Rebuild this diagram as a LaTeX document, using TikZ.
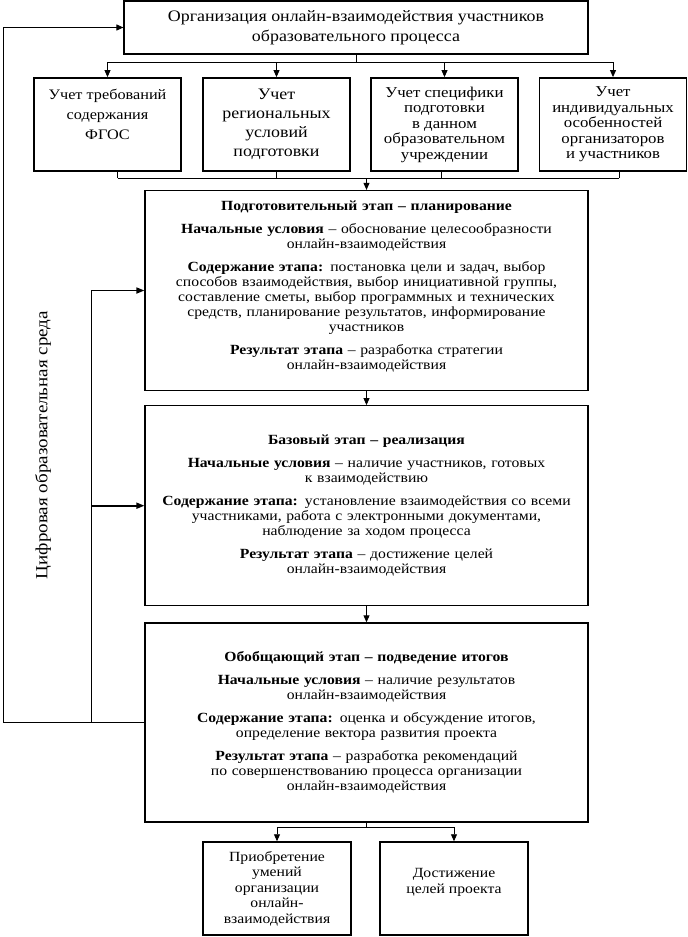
\documentclass[tikz,border=0pt]{standalone}
\usepackage{fontspec}
\setmainfont[FakeStretch=1.12]{Liberation Serif}
\usetikzlibrary{arrows.meta,positioning,calc}

\begin{document}
\begin{tikzpicture}[
        x=1pt, y=-1pt,
        mainBox/.style={
            draw,
            line width=1.1pt,
            minimum width=464pt,
            minimum height=53pt,
            align=center,
            font=\fontsize{16}{20}\selectfont
        },
        factorBox/.style={
            draw,
            line width=1.8pt,
            minimum width=147pt,
            minimum height=93pt,
            inner sep=2pt,
            align=center,
            font=\fontsize{14.5}{15.5}\selectfont
        },
        stageBox/.style={
            draw,
            line width=1.2pt,
            text width=430pt,
            inner xsep=6.5pt,
            minimum height=200pt,
            align=center,
            font=\fontsize{14}{15}\selectfont
        },
        resultBox/.style={
            draw,
            line width=1.5pt,
            minimum width=148pt,
            minimum height=93pt,
            inner sep=2pt,
            align=center,
            font=\fontsize{14}{15.5}\selectfont
        },
        flowLine/.style={
            line width=0.9pt
        },
        flowArrow/.style={
            -{Triangle[length=7pt,width=6pt]},
            line width=0.9pt
        },
        loopArrow/.style={
            -{Triangle[length=8pt,width=6pt]},
            line width=1.6pt
        },
        envLabel/.style={
            font=\fontsize{17}{20}\selectfont
        }
    ]

        \useasboundingbox (0,0) rectangle (688,937);

        % Top block
        \node[mainBox] (orgBox) at (356,27.5) {
            Организация онлайн-взаимодействия участников\\
            образовательного процесса
        };

        % Factors
        \node[factorBox, font=\fontsize{14.5}{20}\selectfont] (reqBox) at (107.5,124.5) {
            Учет требований\\ содержания\\ ФГОС\\ \mbox{}
        };
        \node[factorBox, font=\fontsize{16}{19}\selectfont] (regionBox) at (276.5,124.5) {
            Учет\\ региональных\\ условий\\ подготовки
        };
        \node[factorBox, font=\fontsize{15}{15.5}\selectfont] (specBox) at (444.5,124.5) {
            Учет специфики\\ подготовки\\ в данном\\ образовательном\\ учреждении
        };
        \node[factorBox, font=\fontsize{15}{15.5}\selectfont] (indivBox) at (613,124.5) {
            Учет\\ индивидуальных\\ особенностей\\ организаторов\\ и участников
        };

        % Stages
        \node[stageBox] (planStage) at (366.5,290.5) {
            \textbf{Подготовительный этап – планирование}\\[8pt]
            \textbf{Начальные условия} – обоснование целесообразности\\
            онлайн-взаимодействия\\[8pt]
            \textbf{Содержание этапа:} постановка цели и задач, выбор\\
            способов взаимодействия, выбор инициативной группы,\\
            составление сметы, выбор программных и технических\\
            средств, планирование результатов, информирование\\
            участников\\[8pt]
            \textbf{Результат этапа} – разработка стратегии\\
            онлайн-взаимодействия\\[-5pt]
            \mbox{}
        };

        \node[stageBox, below=14pt of planStage] (baseStage) {
            \textbf{Базовый этап – реализация}\\[8pt]
            \textbf{Начальные условия} – наличие участников, готовых\\
            к взаимодействию\\[8pt]
            \textbf{Содержание этапа:} установление взаимодействия со всеми\\
            участниками, работа с электронными документами,\\
            наблюдение за ходом процесса\\[8pt]
            \textbf{Результат этапа} – достижение целей\\
            онлайн-взаимодействия
        };

        \node[stageBox, minimum height=199pt, below=16pt of baseStage] (sumStage) {
            \textbf{Обобщающий этап – подведение итогов}\\[8pt]
            \textbf{Начальные условия} – наличие результатов\\
            онлайн-взаимодействия\\[8pt]
            \textbf{Содержание этапа:} оценка и обсуждение итогов,\\
            определение вектора развития проекта\\[8pt]
            \textbf{Результат этапа} – разработка рекомендаций\\
            по совершенствованию процесса организации\\
            онлайн-взаимодействия
        };

        % Results
        \node[resultBox] (skillBox) at (277,888.5) {
            Приобретение\\ умений\\ организации\\ онлайн-\\ взаимодействия
        };
        \node[resultBox] (goalBox) at (454,888.5) {
            Достижение\\ целей проекта\\ \mbox{}
        };

        % Environment label
        \node[envLabel, rotate=90] (envText) at (43,445) {
            Цифровая образовательная среда
        };

        % Buses
        \coordinate (topBus) at (0,62);
        \coordinate (lowBus) at (0,178);
        \coordinate (resBus) at (0,827);
        \coordinate (outerLoop) at (3,0);
        \coordinate (innerLoop) at (91,0);

        \draw[flowLine] (orgBox.south) -- (orgBox.south |- topBus);
        \draw[flowLine] (reqBox.north |- topBus) -- (indivBox.north |- topBus);
        \foreach \f in {reqBox,regionBox,specBox,indivBox}
            \draw[flowArrow] (\f.north |- topBus) -- (\f.north);

        \foreach \f/\dx in {reqBox/10,regionBox/0,specBox/-3,indivBox/6}
            \draw[flowLine] ([xshift=\dx pt]\f.south) -- ([xshift=\dx pt]\f.south |- lowBus);
        \draw[flowLine] ([xshift=10pt]reqBox.south |- lowBus) -- ([xshift=6pt]indivBox.south |- lowBus);
        \draw[flowArrow] (planStage.north |- lowBus) -- (planStage.north);

        \draw[flowArrow] (planStage.south) -- (baseStage.north);
        \draw[flowArrow] (baseStage.south) -- (sumStage.north);

        \draw[flowLine] (sumStage.south) -- (sumStage.south |- resBus);
        \draw[flowLine] (skillBox.north |- resBus) -- (goalBox.north |- resBus);
        \foreach \f in {skillBox,goalBox}
            \draw[flowArrow] (\f.north |- resBus) -- (\f.north);

        % Feedback loop
        \draw[flowLine] (sumStage.west) -- (sumStage.west -| outerLoop);
        \draw[flowArrow] (sumStage.west -| outerLoop) |- (orgBox.west);
        \draw[flowLine] (sumStage.west -| innerLoop) -- (innerLoop |- planStage.west);
        \draw[loopArrow] (innerLoop |- planStage.west) -- (planStage.west);
        \draw[loopArrow] (innerLoop |- baseStage.west) -- (baseStage.west);

    \end{tikzpicture}
\end{document}
